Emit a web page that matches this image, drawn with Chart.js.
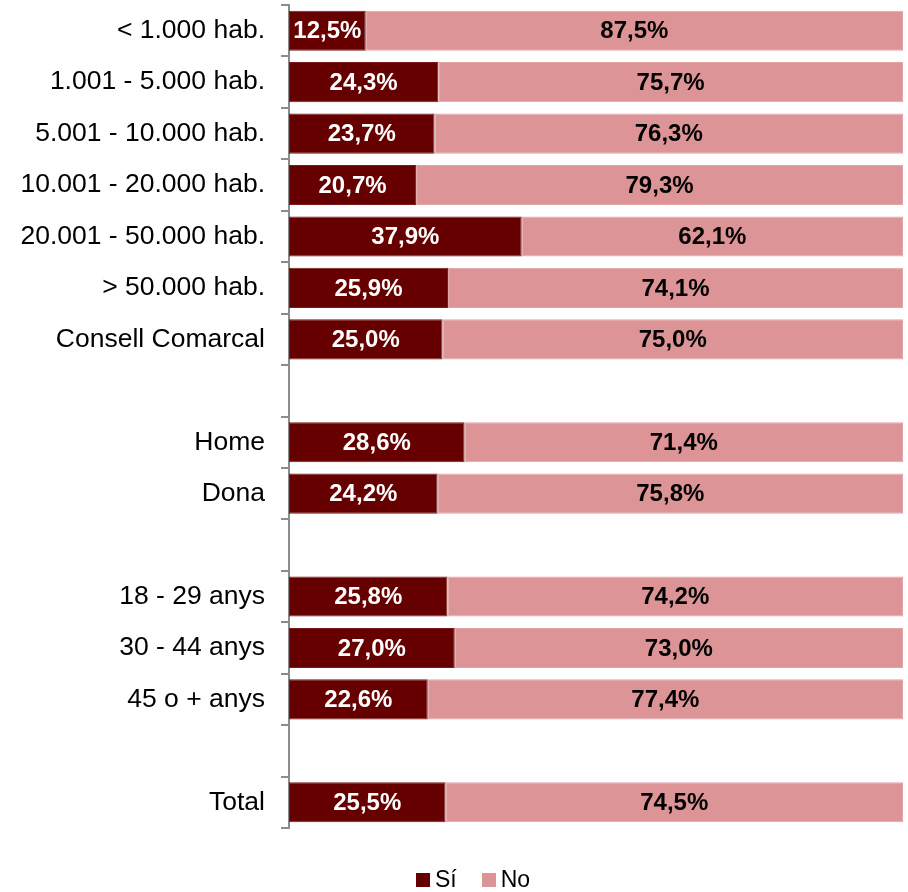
<!DOCTYPE html>
<html>
<head>
<meta charset="utf-8">
<script src="https://cdn.jsdelivr.net/npm/chart.js@4"></script>
<style>
  html, body { margin: 0; padding: 0; background: #fff; }
  #wrap { position: relative; width: 908px; height: 892px; }
  #legend { position: absolute; left: 416px; top: 868px; display: flex; align-items: center;
            font: 23px 'Liberation Sans', Arial, sans-serif; line-height: 23px; color: #000; }
  #legend .item { display: flex; align-items: center; margin-right: 25px; }
  #legend .box { width: 14px; height: 14px; margin-right: 5px; }
</style>
</head>
<body>
<div id="wrap"><canvas id="bar-chart"></canvas><div id="legend"></div></div>
<script>
// categories (blank entries are the gaps between groups)
var categories = ['< 1.000 hab.', '1.001 - 5.000 hab.', '5.001 - 10.000 hab.', '10.001 - 20.000 hab.',
    '20.001 - 50.000 hab.', '> 50.000 hab.', 'Consell Comarcal', '',
    'Home', 'Dona', '',
    '18 - 29 anys', '30 - 44 anys', '45 o + anys', '',
    'Total'];
var siValues = [12.5, 24.3, 23.7, 20.7, 37.9, 25.9, 25.0, null, 28.6, 24.2, null, 25.8, 27.0, 22.6, null, 25.5];
var noValues = [87.5, 75.7, 76.3, 79.3, 62.1, 74.1, 75.0, null, 71.4, 75.8, null, 74.2, 73.0, 77.4, null, 74.5];
var seriesNames = ['Sí', 'No'];
var seriesColors = ['#660000', '#dc9496'];

const FONT = "'Liberation Sans', Arial, sans-serif";

// draws the value inside each bar segment
var barLabels = {
    id: 'barLabels',
    afterDatasetsDraw: function (chart) {
        var ctx = chart.ctx;
        ctx.save();
        ctx.font = 'bold 24px ' + FONT;
        ctx.textAlign = 'center';
        ctx.textBaseline = 'middle';
        chart.data.datasets.forEach(function (ds, i) {
            chart.getDatasetMeta(i).data.forEach(function (bar, j) {
                var v = ds.data[j];
                if (v === null || v === undefined) return;
                var cx = (bar.x + bar.base) / 2;
                ctx.fillStyle = i === 0 ? '#ffffff' : '#000000';
                ctx.fillText(v.toFixed(1).replace('.', ',') + '%', cx, bar.y + 1);
            });
        });
        ctx.restore();
    }
};

var barChart = new Chart(document.getElementById('bar-chart'), {
    type: 'bar',
    data: {
        labels: categories,
        datasets: [{
            label: seriesNames[0],
            data: siValues,
            backgroundColor: seriesColors[0],
            borderColor: '#7a1a1a',
            borderWidth: 1,
            borderSkipped: false
        }, {
            label: seriesNames[1],
            data: noValues,
            backgroundColor: seriesColors[1],
            borderColor: '#e3a4a6',
            borderWidth: 1,
            borderSkipped: false
        }]
    },
    options: {
        indexAxis: 'y',
        responsive: true,
        maintainAspectRatio: false,
        animation: false,
        barPercentage: 0.78,
        categoryPercentage: 1,
        layout: { padding: { left: 0, right: 5, top: 5, bottom: 64 } },
        scales: {
            x: {
                stacked: true,
                min: 0,
                max: 100,
                display: false
            },
            y: {
                stacked: true,
                afterFit: function (scale) {
                    scale.width = 289;
                    scale.paddingTop = 0;
                    scale.paddingBottom = 0;
                },
                grid: {
                    drawOnChartArea: false,
                    offset: true,
                    tickLength: 8,
                    color: '#8c8c8c',
                    lineWidth: 2
                },
                border: { color: '#8c8c8c', width: 2 },
                ticks: {
                    color: '#000',
                    padding: 16,
                    font: { family: FONT, size: 26.5 }
                }
            }
        },
        plugins: {
            legend: { display: false },
            tooltip: { enabled: false }
        }
    },
    plugins: [barLabels]
});

// legend built from the series names and colours
var legend = document.getElementById('legend');
barChart.data.datasets.forEach(function (ds) {
    var item = document.createElement('span');
    item.className = 'item';
    var box = document.createElement('span');
    box.className = 'box';
    box.style.background = ds.backgroundColor;
    item.appendChild(box);
    item.appendChild(document.createTextNode(ds.label));
    legend.appendChild(item);
});
</script>
</body>
</html>
